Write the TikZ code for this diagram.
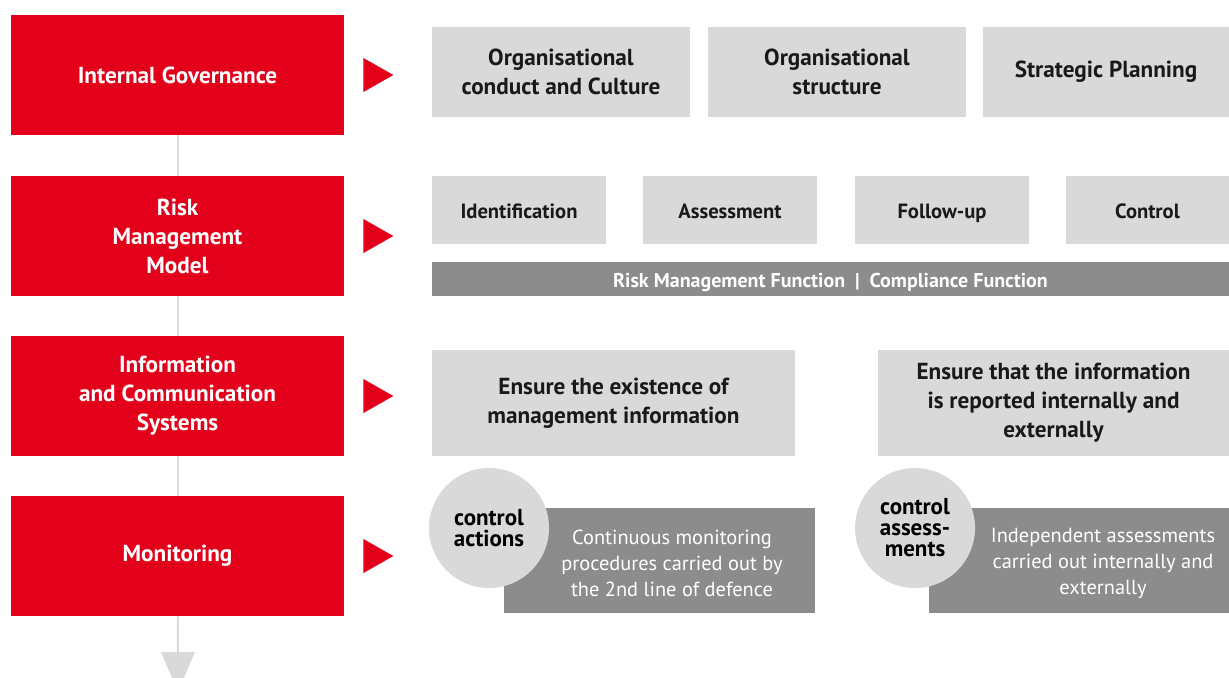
\documentclass[tikz,border=0pt]{standalone}
\usepackage{fontspec}
\setmainfont{PT Sans}
\usetikzlibrary{calc,positioning}

\begin{document}
\begin{tikzpicture}[x=0.5pt,y=-0.5pt]
\definecolor{brand}{HTML}{E2001A}
\definecolor{pale}{HTML}{D9D9D9}
\definecolor{dark}{HTML}{8C8C8C}
\tikzset{
  redbox/.style={fill=brand,text=white,font=\bfseries\fontsize{11.6}{14.5}\selectfont,
    align=center,minimum width=166.5pt,minimum height=60pt,inner sep=0pt},
  greybox/.style={fill=pale,text=black!90,font=\bfseries\fontsize{11.6}{14.5}\selectfont,
    align=center,inner sep=0pt},
  smallbox/.style={greybox,font=\bfseries\fontsize{10.3}{12}\selectfont,minimum height=34pt,
    text height=9.5pt,text depth=1.5pt},
  darkbox/.style={fill=dark,inner sep=0pt,minimum height=52.5pt},
  darktext/.style={text=white,font=\fontsize{10.2}{13}\selectfont,align=center},
  disc/.style={circle,fill=pale,minimum size=60pt,inner sep=0pt,align=center,
    font=\bfseries\fontsize{11.5}{10.5}\selectfont},
  vline/.style={draw=pale,line width=1pt}
}
\useasboundingbox (0,0) rectangle (1229,677);
\clip (0,0) rectangle (1229,677);

% left column
\node[redbox] (ig) at (177.5,75) {Internal Governance};
\node[redbox] (rm) at (177.5,236) {Risk\\Management\\Model};
\node[redbox] (ic) at (177.5,396) {Information\\and Communication\\Systems};
\node[redbox] (mo) at (177.5,556) {Monitoring};
\coordinate (end) at (178,652);
\draw[vline] (ig) -- (rm);
\draw[vline] (rm) -- (ic);
\draw[vline] (ic) -- (mo);
\draw[vline] (mo) -- (end);
\fill[pale] ($(end)+(-17,0)$) -- ($(end)+(17,0)$) -- ($(end)+(0,40)$) -- cycle;
\foreach \n in {ig,rm,ic,mo}
  \fill[brand] ($(\n.east)+(19,-17)$) -- ++(30,17) -- ++(-30,17) -- cycle;

% internal governance
\node[greybox,minimum width=129pt,minimum height=45pt] (occ) at (561,72) {Organisational\\conduct and Culture};
\node[greybox,minimum width=129pt,minimum height=45pt] (os) at (837,72) {Organisational\\structure};
\node[greybox,minimum width=123pt,minimum height=45pt] (sp) at (1106,72) {Strategic Planning};

% risk management
\node[smallbox,minimum width=87pt] (idf) at (519,210) {Identification};
\node[smallbox,minimum width=87pt] (asm) at (730,210) {Assessment};
\node[smallbox,minimum width=87pt] (fup) at (942,210) {Follow-up};
\node[smallbox,minimum width=81.5pt] (ctl) at (1147.5,210) {Control};
\node[fill=dark,text=white,font=\bfseries\fontsize{10}{11}\selectfont,minimum width=398.5pt,
  minimum height=17pt,inner sep=0pt,text height=9pt,text depth=1pt] (fn) at (830.5,279)
  {Risk Management Function\enspace\textcolor{white}{\textbar}\enspace Compliance Function};

% information and communication
\node[greybox,minimum width=181.5pt,minimum height=53pt] (mi) at (613.5,403) {Ensure the existence of\\management information};
\node[greybox,minimum width=175.5pt,minimum height=53pt] (rep) at (1053.5,403) {Ensure that the information\\is reported internally and\\externally};

% monitoring
\node[darkbox,minimum width=155.5pt] (cab) at (659.5,560.5) {};
\node[darkbox,minimum width=150pt] (cxb) at (1079,560.5) {};
\node[darktext] (cat) at (672,563) {Continuous monitoring\\procedures carried out by\\the 2nd line of defence};
\node[darktext] (cxt) at (1103,563) {Independent assessments\\carried out internally and\\externally};
\node[disc] (ca) at (489,528) {control\\actions};
\node[disc] (cx) at (915,528) {control\\assess-\\ments};
\end{tikzpicture}
\end{document}
